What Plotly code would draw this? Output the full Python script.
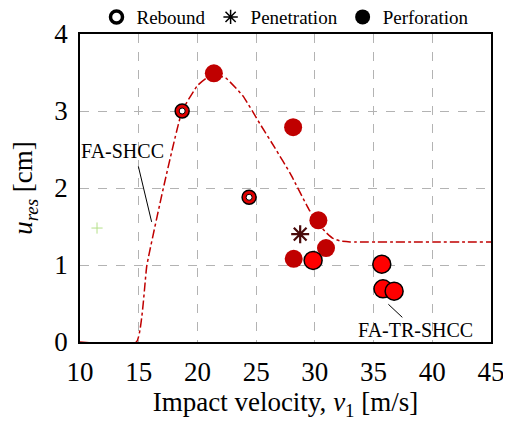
import plotly.graph_objects as go

# Fitted curve (FA-SHCC trend)
curve_x = [10, 14.8, 15.7, 17.1, 18.7, 20.0, 20.8, 21.6, 22.4, 23.9, 25.3, 26.6, 27.9, 29.5, 30.4, 30.9, 31.5, 32.2, 33.0, 45]
curve_y = [0, 0, 1.0, 2.0, 3.0, 3.33, 3.43, 3.46, 3.43, 3.19, 2.84, 2.52, 2.19, 1.72, 1.52, 1.43, 1.35, 1.31, 1.30, 1.30]

# Rebound (FA-SHCC)
reb_x = [18.7, 24.4]
reb_y = [3.0, 1.88]

# Penetration
pen_x = [28.75]
pen_y = [1.40]

# Perforation FA-SHCC (dark red)
perf1_x = [21.4, 28.15, 30.3, 30.95, 28.2]
perf1_y = [3.49, 2.79, 1.58, 1.22, 1.08]

# Perforation FA-TR-SHCC (bright red, outlined)
perf2_x = [29.85, 35.7, 35.8, 36.75]
perf2_y = [1.06, 1.01, 0.69, 0.66]

x_ticks = [10, 15, 20, 25, 30, 35, 40, 45]
y_ticks = [0, 1, 2, 3, 4]

FONT = "Liberation Serif"
DARK = "#C00000"

fig = go.Figure()

fig.add_trace(go.Scatter(x=curve_x, y=curve_y, mode="lines",
                         line=dict(color=DARK, width=1.5, dash="dashdot", shape="spline", smoothing=0.4),
                         showlegend=False, hoverinfo="skip", cliponaxis=False))

# tiny green cross
fig.add_trace(go.Scatter(x=[11.45], y=[1.48], mode="markers",
                         marker=dict(symbol="cross-thin-open", size=8, color="#b5e08a", line=dict(color="#b5e08a", width=1)),
                         showlegend=False))

fig.add_trace(go.Scatter(x=perf1_x, y=perf1_y, mode="markers",
                         marker=dict(symbol="circle", size=18, color=DARK),
                         showlegend=False))
fig.add_trace(go.Scatter(x=perf2_x, y=perf2_y, mode="markers",
                         marker=dict(symbol="circle", size=18, color="#FF0000", line=dict(color="black", width=1.5)),
                         showlegend=False))
fig.add_trace(go.Scatter(x=reb_x, y=reb_y, mode="markers",
                         marker=dict(symbol="circle", size=14, color="#E00000", line=dict(color="black", width=1.5)),
                         showlegend=False))
fig.add_trace(go.Scatter(x=reb_x, y=reb_y, mode="markers",
                         marker=dict(symbol="circle", size=6, color="white", line=dict(color="black", width=1)),
                         showlegend=False))
fig.add_trace(go.Scatter(x=pen_x, y=pen_y, mode="markers",
                         marker=dict(symbol="asterisk-open", size=15, color="#4a0a0a", line=dict(color="#4a0a0a", width=2.2)),
                         showlegend=False))

# legend entries
fig.add_trace(go.Scatter(x=[None], y=[None], mode="markers", name="Rebound",
                         marker=dict(symbol="circle-open", size=12, color="black", line=dict(color="black", width=3.5))))
fig.add_trace(go.Scatter(x=[None], y=[None], mode="markers", name="Penetration",
                         marker=dict(symbol="asterisk-open", size=12, color="black", line=dict(color="black", width=1.5))))
fig.add_trace(go.Scatter(x=[None], y=[None], mode="markers", name="Perforation",
                         marker=dict(symbol="circle", size=15, color="black")))

# leader lines
fig.add_shape(type="line", x0=14.97, y0=2.28, x1=16.1, y1=1.56, line=dict(color="black", width=1))
fig.add_shape(type="line", x0=36.26, y0=0.49, x1=37.45, y1=0.32, line=dict(color="black", width=1))

fig.add_annotation(x=13.6, y=2.48, text="FA-SHCC", showarrow=False,
                   font=dict(family=FONT, size=20, color="black"))
fig.add_annotation(x=38.6, y=0.15, text="FA-TR-SHCC", showarrow=False,
                   font=dict(family=FONT, size=20, color="black"))

axis_common = dict(showgrid=True, gridcolor="#b3b3b3", griddash="dash", gridwidth=1,
                   showline=True, linecolor="black", linewidth=1.5, mirror=True,
                   ticks="", zeroline=False, automargin=False, ticklabelstandoff=5,
                   tickfont=dict(family=FONT, size=27, color="black"))

fig.update_xaxes(range=[10, 45], tickvals=x_ticks, ticktext=[str(v) for v in x_ticks],
                 title=dict(text="Impact velocity, <i>v</i><sub>1</sub> [m/s]",
                            font=dict(family=FONT, size=27, color="black"), standoff=4),
                 **axis_common)
fig.update_yaxes(range=[0, 4], tickvals=y_ticks, ticktext=[str(v) for v in y_ticks],
                 title=dict(text="<i>u</i><sub><i>res</i></sub> [cm]",
                            font=dict(family=FONT, size=27, color="black"), standoff=14),
                 **axis_common)

fig.update_layout(width=511, height=421, margin=dict(l=72, r=28, t=26, b=87, autoexpand=False),
                  plot_bgcolor="white", paper_bgcolor="white",
                  legend=dict(orientation="h", x=0.5, xanchor="center", y=1.055, yanchor="middle",
                              font=dict(family=FONT, size=19, color="black"),
                              itemwidth=30, tracegroupgap=0, bgcolor="rgba(0,0,0,0)"),
                  font=dict(family=FONT))

fig.write_html("out.html")
